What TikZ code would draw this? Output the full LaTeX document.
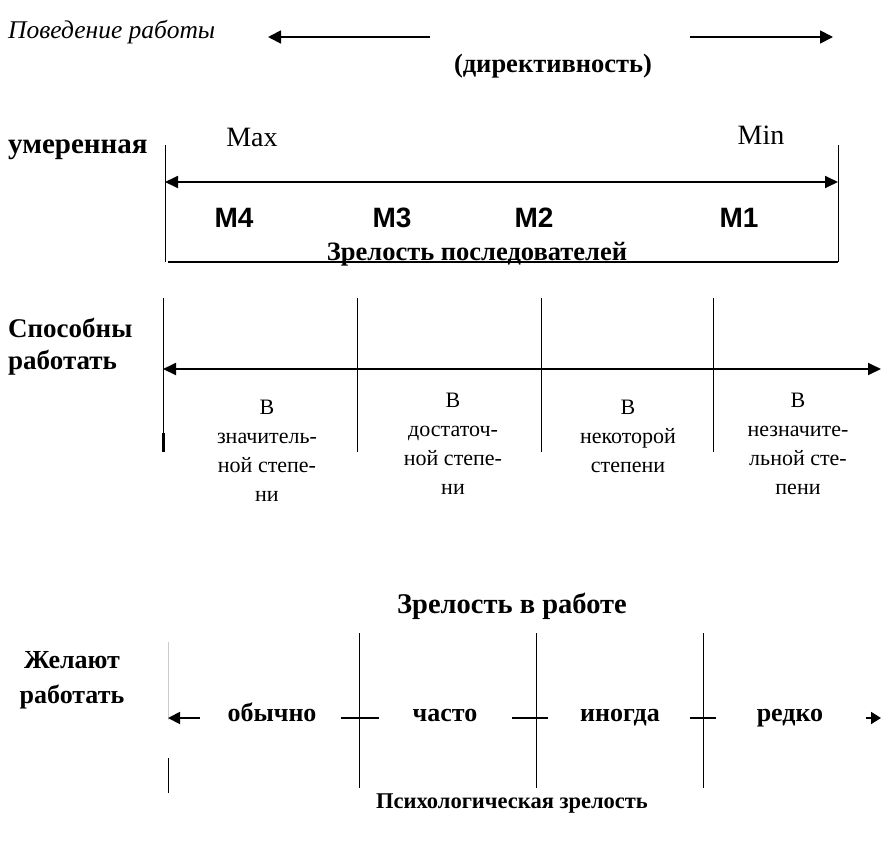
\documentclass[tikz,border=0pt]{standalone}
\usepackage{fontspec}
\setmainfont{Liberation Serif}
\setsansfont{Liberation Sans}
\usetikzlibrary{positioning,arrows.meta}

\tikzset{
  head/.style={line width=1.8pt,-{Triangle[length=13pt,width=13pt]}},
  axis/.style={line width=1.8pt,{Triangle[length=13pt,width=12pt]}-{Triangle[length=13pt,width=12pt]}},
  vline/.style={line width=1pt},
  heading/.style={font=\fontsize{28.5}{34}\selectfont\bfseries,inner sep=0pt,anchor=base},
  sidelbl/.style={font=\fontsize{27}{32}\selectfont\bfseries,inner sep=0pt,align=left,anchor=west},
  degree/.style={font=\fontsize{22}{29}\selectfont,inner sep=0pt,align=center},
  mlevel/.style={font=\sffamily\bfseries\fontsize{28}{32}\selectfont,inner sep=0pt,anchor=base},
  often/.style={font=\fontsize{26}{30}\selectfont\bfseries,inner sep=0pt,anchor=base},
  endlbl/.style={font=\fontsize{28}{32}\selectfont,inner sep=0pt,anchor=base},
}

\begin{document}
\begin{tikzpicture}[x=1pt,y=-1pt]
\useasboundingbox (0,0) rectangle (881,851);

% leadership behaviour
\node[font=\fontsize{25.5}{30}\selectfont\itshape,inner sep=0pt,anchor=base west] (behav) at (8,39) {Поведение работы};
\node[heading,font=\fontsize{26.5}{32}\selectfont\bfseries] (direct) at (553,73) {(директивность)};
\coordinate (dirL0) at (430,37);
\coordinate (dirL1) at (268,37);
\coordinate (dirR0) at (690,37);
\coordinate (dirR1) at (833,37);
\draw[head] (dirL0) -- (dirL1);
\draw[head] (dirR0) -- (dirR1);

% followers maturity
\node[sidelbl,font=\fontsize{29}{34}\selectfont\bfseries,anchor=base west] (moder) at (8,153) {умеренная};
\node[endlbl] (max) at (252,146) {Max};
\node[endlbl] (min) at (761,144) {Min};
\coordinate (fTL) at (165,145);
\coordinate (fBL) at (165,262);
\coordinate (fTR) at (838,145);
\coordinate (fBR) at (838,262);
\coordinate (fAL) at (165,182);
\coordinate (fAR) at (838,182);
\draw[vline] (fTL) -- (fBL);
\draw[vline] (fTR) -- (fBR);
\draw[axis] (fAL) -- (fAR);
\node[mlevel] (m4) at (234,227) {M4};
\node[mlevel] (m3) at (392,227) {M3};
\node[mlevel] (m2) at (534,227) {M2};
\node[mlevel] (m1) at (739,227) {M1};
\node[heading,font=\fontsize{26.5}{32}\selectfont\bfseries] (follow) at (477,260) {Зрелость последователей};
\coordinate (fB0) at (168,262);
\draw[line width=2.4pt] (fB0) -- (fBR);

% ability to work
\node[sidelbl] (able) at (8,347) {Способны\\работать};
\coordinate (aL) at (163,369);
\coordinate (aR) at (881,369);
\foreach \x/\n in {163/a0,357/a1,541/a2,713/a3}{
  \coordinate (\n t) at (\x,298);
  \coordinate (\n b) at (\x,452);
  \draw[vline] (\n t) -- (\n b);
}
\coordinate (a0k) at (163,433);
\draw[line width=3pt] (a0k) -- (a0b);
\draw[axis] (aL) -- (aR);
\node[degree] (d1) at (267,451) {В\\значитель-\\ной степе-\\ни};
\node[degree] (d2) at (453,444) {В\\достаточ-\\ной степе-\\ни};
\node[degree] (d3) at (628,436) {В\\некоторой\\степени};
\node[degree] (d4) at (798,444) {В\\незначите-\\льной сте-\\пени};

% readiness to work
\node[heading] (work) at (512,613) {Зрелость в работе};
\node[sidelbl,align=center,anchor=center,font=\fontsize{26}{35}\selectfont\bfseries] (want) at (72,680) {Желают\\работать};
\coordinate (wG0) at (168,642);
\coordinate (wG1) at (168,720);
\coordinate (wD0) at (168,758);
\coordinate (wD1) at (168,793);
\draw[black!20,line width=0.6pt] (wG0) -- (wG1);
\draw[vline] (wD0) -- (wD1);
\coordinate (wA0) at (200,718);
\coordinate (wA1) at (168,718);
\draw[line width=1.8pt,-{Triangle[length=12pt,width=12pt]}] (wA0) -- (wA1);
\foreach \x/\n/\a/\b in {359/w1/341/379,536/w2/512/548,703/w3/690/716}{
  \coordinate (\n t) at (\x,633);
  \coordinate (\n b) at (\x,788);
  \coordinate (\n l) at (\a,718);
  \coordinate (\n r) at (\b,718);
  \draw[vline] (\n t) -- (\n b);
  \draw[line width=1.4pt] (\n l) -- (\n r);
}
\node[often] (usual) at (272,721) {обычно};
\node[often] (freq) at (445,721) {часто};
\node[often] (some) at (620,721) {иногда};
\node[often] (rare) at (790,721) {редко};
\coordinate (wB0) at (866,718);
\coordinate (wB1) at (881,718);
\draw[line width=1.8pt,-{Triangle[length=10pt,width=12pt]}] (wB0) -- (wB1);
\node[heading,font=\fontsize{22.5}{28}\selectfont\bfseries] (psych) at (512,808) {Психологическая зрелость};
\end{tikzpicture}
\end{document}
